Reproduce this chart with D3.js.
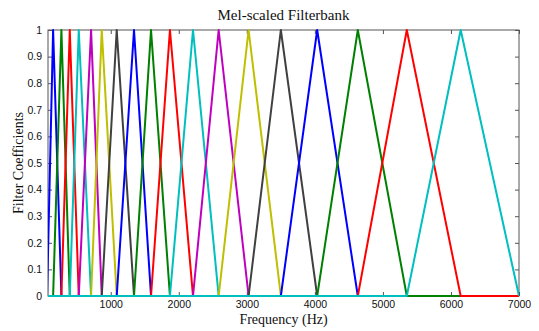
<!DOCTYPE html>
<html>
<head>
<meta charset="utf-8">
<script src="https://cdn.jsdelivr.net/npm/d3@7"></script>
<style>
  body { margin: 0; background: #fff; }
  .tick text { font-family: "Liberation Sans", Arial, sans-serif; font-size: 10.5px; fill: #111; }
  .tick line { stroke: #555; }
  .domain { stroke: none; }
  .lbl { font-family: "Liberation Serif", "Times New Roman", serif; font-size: 14px; fill: #111; }
</style>
</head>
<body>
<div class="chart"></div>
<script>
// filter edge frequencies (Hz): filter i rises from edges[i-1], peaks at edges[i], falls to edges[i+1]
const edgesHz = [64, 153, 275, 398, 530, 711, 868, 1088, 1342, 1592, 1870, 2209, 2586, 3026, 3500, 4034, 4631, 5351, 6143, 7000];
const freqRange = [78, 7000];
const xTicks = [1000, 2000, 3000, 4000, 5000, 6000, 7000];
const yTicks = [0, 0.1, 0.2, 0.3, 0.4, 0.5, 0.6, 0.7, 0.8, 0.9, 1];
// matlab style colour order b g r c m y k
const colorOrder = ['#0000ff', '#008000', '#ff0000', '#00bfbf', '#bf00bf', '#bfbf00', '#404040'];

const width = 539, height = 331;
const margin = { top: 30, right: 20, bottom: 35, left: 48 };
const w = width - margin.left - margin.right;
const h = height - margin.top - margin.bottom;

const svg = d3.select('.chart').append('svg')
  .attr('width', width)
  .attr('height', height);

const g = svg.append('g')
  .attr('transform', `translate(${margin.left},${margin.top})`);

const x = d3.scaleLinear().domain(freqRange).range([0, w]);
const y = d3.scaleLinear().domain([0, 1]).range([h, 0]);

// box
g.append('rect')
  .attr('width', w).attr('height', h)
  .attr('fill', 'none').attr('stroke', '#555').attr('stroke-width', 1);

// axes, ticks pointing inward
g.append('g')
  .attr('transform', `translate(0,${h})`)
  .call(d3.axisBottom(x).tickValues(xTicks).tickSize(-4).tickPadding(5).tickFormat(d3.format('d')));
g.append('g')
  .call(d3.axisTop(x).tickValues(xTicks).tickSize(-4).tickFormat(''));
g.append('g')
  .call(d3.axisLeft(y).tickValues(yTicks).tickSize(-4).tickPadding(6).tickFormat(d => d === 0 || d === 1 ? d3.format('d')(d) : d3.format('.1f')(d)));
g.append('g')
  .attr('transform', `translate(${w},0)`)
  .call(d3.axisRight(y).tickValues(yTicks).tickSize(-4).tickFormat(''));

svg.append('defs').append('clipPath').attr('id', 'clip')
  .append('rect').attr('x', 0).attr('y', -4).attr('width', w).attr('height', h + 8);

const filters = d3.range(1, edgesHz.length - 1).map(i => ({
  i,
  pts: [[freqRange[0], 0], [edgesHz[i - 1], 0], [edgesHz[i], 1], [edgesHz[i + 1], 0], [freqRange[1], 0]]
}));

const line = d3.line().x(d => x(d[0])).y(d => y(d[1]));

g.append('g').attr('clip-path', 'url(#clip)')
  .selectAll('path')
  .data(filters)
  .enter().append('path')
  .attr('d', d => line(d.pts))
  .attr('fill', 'none')
  .attr('stroke', d => colorOrder[(d.i - 1) % colorOrder.length])
  .attr('stroke-width', 2)
  .attr('stroke-linejoin', 'round');

svg.append('text').attr('class', 'lbl')
  .attr('x', margin.left + w / 2).attr('y', 20)
  .style('font-size', '15px')
  .attr('text-anchor', 'middle')
  .text('Mel-scaled Filterbank');

svg.append('text').attr('class', 'lbl')
  .attr('x', margin.left + w / 2).attr('y', 324)
  .attr('text-anchor', 'middle')
  .text('Frequency (Hz)');

svg.append('text').attr('class', 'lbl')
  .attr('transform', `translate(23,${margin.top + h / 2}) rotate(-90)`)
  .attr('text-anchor', 'middle')
  .text('Filter Coefficients');
</script>
</body>
</html>
